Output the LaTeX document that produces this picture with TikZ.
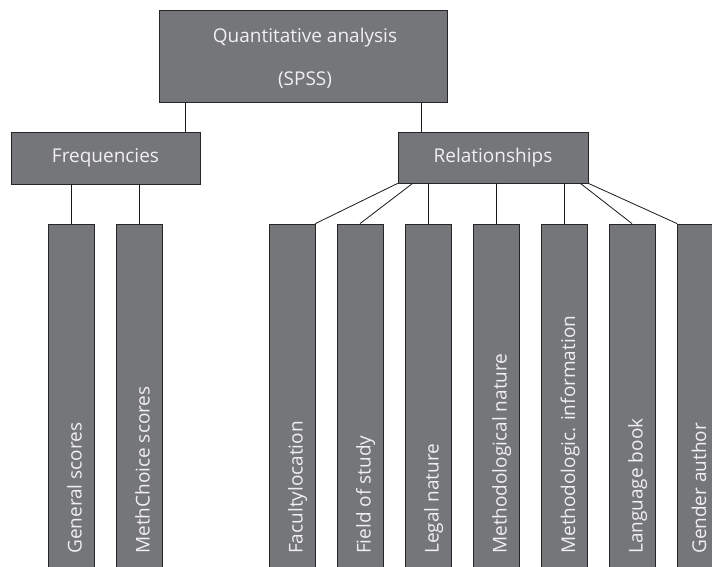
\documentclass[tikz,border=0pt]{standalone}
\usepackage{fontspec}
\setmainfont{Open Sans}
\definecolor{boxgray}{RGB}{117,118,122}
\definecolor{txtwhite}{RGB}{240,240,240}
\begin{document}
\begin{tikzpicture}[x=1pt,y=-1pt,
  box/.style={draw=black!85,line width=0.8pt,fill=boxgray,text=txtwhite,inner sep=0pt,
    font=\fontsize{19}{23}\selectfont},
  tall/.style={box,minimum width=46pt,minimum height=376pt},
  txt/.style={text=txtwhite,inner sep=0pt,anchor=base,font=\fontsize{19}{23}\selectfont},
  lbl/.style={text=txtwhite,inner sep=0pt,rotate=90,anchor=base west,
    font=\fontsize{19}{23}\selectfont},
  conn/.style={draw=black!90,line width=0.8pt}]
\useasboundingbox (0,0) rectangle (712,567);
\clip (0,0) rectangle (712,567);
% top
\node[box,minimum width=288pt,minimum height=92pt] (top) at (303,56) {};
\node[txt] (t1) at (305,43) {Quantitative analysis};
\node[txt] (t2) at (305,86) {(SPSS)};
\node[box,minimum width=189pt,minimum height=52pt] (freq) at (105.5,158) {Frequencies};
\node[box,minimum width=190pt,minimum height=51pt] (rel) at (493,157.5) {Relationships};
% tall boxes
\node[tall] (g) at (71.5,412) {};
\node[tall] (m) at (139,412) {};
\node[tall] (b1) at (292,412) {};
\node[tall] (b2) at (360,412) {};
\node[tall] (b3) at (428,412) {};
\node[tall] (b4) at (496,412) {};
\node[tall] (b5) at (564.5,412) {};
\node[tall] (b6) at (632,412) {};
\node[tall] (b7) at (700.5,412) {};
% labels
\node[lbl] (lg) at (81.5,554) {General scores};
\node[lbl] (lm) at (149.5,554) {MethChoice scores};
\node[lbl] (l1) at (302.5,554) {Facultylocation};
\node[lbl] (l2) at (370.5,554) {Field of study};
\node[lbl] (l3) at (438.5,554) {Legal nature};
\node[lbl] (l4) at (506.5,554) {Methodological nature};
\node[lbl] (l5) at (575,554) {Methodologic. information};
\node[lbl] (l6) at (642.5,554) {Language book};
\node[lbl,text depth=0pt] (l7) at (706,554) {Gender author};
% connector anchors
\coordinate (cf) at (185,0);
\coordinate (cr) at (421,0);
% connectors
\draw[conn] (top.south -| cf) -- (freq.north -| cf);
\draw[conn] (top.south -| cr) -- (rel.north -| cr);
\draw[conn] (freq.south -| g.north) -- (g.north);
\draw[conn] (freq.south -| m.north) -- (m.north);
\draw[conn] (rel.south west) -- (b1.north east);
\draw[conn] ([xshift=15pt]rel.south west) -- (b2.north);
\draw[conn] (rel.south -| b3.north) -- (b3.north);
\draw[conn] (rel.south -| b4.north) -- (b4.north);
\draw[conn] (rel.south -| b5.north) -- (b5.north);
\draw[conn] ([xshift=-8pt]rel.south east) -- (b6.north);
\draw[conn] (rel.south east) -- (b7.north west);
\end{tikzpicture}
\end{document}
